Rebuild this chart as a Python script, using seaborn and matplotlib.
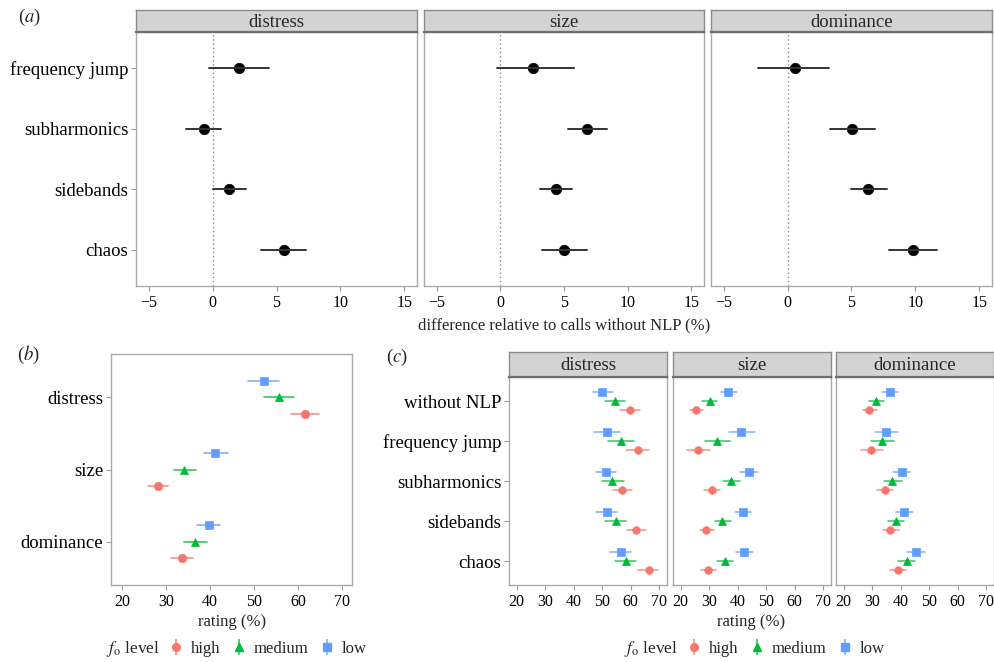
import numpy as np
import pandas as pd
import matplotlib
matplotlib.use("Agg")
import matplotlib.pyplot as plt
import seaborn as sns
from matplotlib.lines import Line2D

# ------------------------------------------------------------------ data
nlp_types = ["frequency jump", "subharmonics", "sidebands", "chaos"]
scales = ["distress", "size", "dominance"]

# panel (a): difference relative to calls without NLP (%), estimate + interval
diff_distress = [2.1, -0.7, 1.3, 5.6]
diff_distress_lo = [-0.25, -2.1, 0.0, 3.8]
diff_distress_hi = [4.45, 0.65, 2.6, 7.3]
diff_size = [2.55, 6.8, 4.35, 5.0]
diff_size_lo = [-0.25, 5.3, 3.15, 3.3]
diff_size_hi = [5.75, 8.35, 5.65, 6.8]
diff_dominance = [0.55, 5.05, 6.3, 9.8]
diff_dominance_lo = [-2.3, 3.35, 4.95, 7.95]
diff_dominance_hi = [3.2, 6.85, 7.75, 11.7]

# panel (b): rating (%) per scale, by f0 level
b_high = [61.5, 28.2, 33.7]
b_high_lo = [58.3, 26.0, 31.2]
b_high_hi = [64.7, 30.5, 36.2]
b_medium = [55.7, 34.1, 36.6]
b_medium_lo = [52.2, 31.8, 34.0]
b_medium_hi = [59.1, 36.8, 39.2]
b_low = [52.2, 41.2, 39.7]
b_low_lo = [48.7, 38.7, 37.1]
b_low_hi = [55.7, 44.0, 42.2]

# panel (c): rating (%) per call type, scale and f0 level
call_types = ["without NLP", "frequency jump", "subharmonics", "sidebands", "chaos"]
c_distress_low = [50.0, 51.6, 51.3, 51.5, 56.5]
c_distress_low_lo = [46.6, 47.1, 47.8, 47.9, 52.8]
c_distress_low_hi = [53.6, 56.3, 54.9, 55.0, 60.2]
c_distress_medium = [54.5, 56.5, 53.5, 54.7, 58.3]
c_distress_medium_lo = [51.0, 52.0, 49.9, 51.0, 54.5]
c_distress_medium_hi = [58.1, 61.0, 57.5, 58.3, 61.9]
c_distress_high = [59.7, 62.4, 57.0, 62.0, 66.3]
c_distress_high_lo = [56.3, 58.2, 53.6, 58.5, 62.7]
c_distress_high_hi = [63.1, 66.5, 60.4, 65.5, 69.5]
c_size_low = [36.6, 41.1, 43.8, 41.7, 42.2]
c_size_low_lo = [34.1, 37.0, 40.8, 38.9, 39.3]
c_size_low_hi = [39.6, 46.0, 47.0, 44.8, 45.5]
c_size_medium = [30.3, 32.6, 37.8, 34.6, 35.5]
c_size_medium_lo = [27.6, 28.5, 35.0, 31.9, 32.6]
c_size_medium_hi = [32.9, 37.2, 40.8, 37.6, 38.4]
c_size_high = [25.3, 26.1, 30.8, 29.0, 29.6]
c_size_high_lo = [23.2, 22.3, 28.1, 26.7, 27.1]
c_size_high_hi = [27.7, 30.2, 33.8, 31.6, 32.3]
c_dominance_low = [36.2, 35.0, 40.3, 41.3, 45.3]
c_dominance_low_lo = [33.5, 31.0, 37.4, 38.5, 42.2]
c_dominance_low_hi = [39.0, 39.2, 43.3, 44.2, 48.6]
c_dominance_medium = [31.2, 33.5, 37.1, 38.3, 42.1]
c_dominance_medium_lo = [28.8, 29.6, 34.3, 35.5, 39.2]
c_dominance_medium_hi = [34.1, 37.8, 40.3, 41.2, 45.1]
c_dominance_high = [29.0, 29.7, 34.4, 36.4, 39.0]
c_dominance_high_lo = [26.7, 25.9, 31.7, 33.7, 36.2]
c_dominance_high_hi = [31.6, 33.7, 37.4, 39.3, 41.8]

levels = ["high", "medium", "low"]
level_colors = {"high": "#F8766D", "medium": "#00BA38", "low": "#619CFF"}
level_markers = {"high": "o", "medium": "^", "low": "s"}

# ------------------------------------------------------------------ helpers
def long_df(cats, est, lo, hi, level=None):
    rows = []
    for c, e, l, h in zip(cats, est, lo, hi):
        for v in (l, e, h):
            rows.append({"cat": c, "value": v, "level": level})
    return pd.DataFrame(rows)


def interval(v):
    return (v.min(), v.max())


sns.set_theme(style="white")
plt.rcParams["font.family"] = ["Liberation Serif", "DejaVu Serif"]
plt.rcParams["mathtext.fontset"] = "stix"

W, H = 995, 662
fig = plt.figure(figsize=(W / 100, H / 100), dpi=100)

BORDER = "#a9a9a9"
TICKC = "#9a9a9a"


def px_axes(x0, y0, x1, y1):
    return fig.add_axes([x0 / W, 1 - y1 / H, (x1 - x0) / W, (y1 - y0) / H])


def style_axes(ax, show_y, ylab_size=13.5, xlab_size=11.5):
    for s in ax.spines.values():
        s.set_visible(True)
        s.set_color(BORDER)
        s.set_linewidth(1.0)
    ax.tick_params(axis="both", length=3.5, width=0.8, color=TICKC,
                   labelcolor="black", pad=2)
    ax.tick_params(axis="x", labelsize=xlab_size, pad=3)
    ax.tick_params(axis="y", labelsize=ylab_size)
    ax.set_xlabel("")
    ax.set_ylabel("")
    ax.grid(False)
    if not show_y:
        ax.tick_params(axis="y", left=False, labelleft=False)
    else:
        ax.tick_params(axis="y", left=True)
    ax.tick_params(axis="x", bottom=True)


def strip(x0, y0, x1, y1, label):
    sa = px_axes(x0, y0, x1, y1)
    sa.set_facecolor("#d3d3d3")
    sa.set_xticks([])
    sa.set_yticks([])
    for s in sa.spines.values():
        s.set_color("#8c8c8c")
        s.set_linewidth(1.0)
    sa.spines["bottom"].set_linewidth(1.6)
    sa.spines["bottom"].set_color("#6e6e6e")
    sa.text(0.5, 0.45, label, ha="center", va="center", fontsize=13.5,
            transform=sa.transAxes)


# ------------------------------------------------------------------ panel (a)
a_data = {
    "distress": (diff_distress, diff_distress_lo, diff_distress_hi),
    "size": (diff_size, diff_size_lo, diff_size_hi),
    "dominance": (diff_dominance, diff_dominance_lo, diff_dominance_hi),
}
a_x = [(136, 417), (424, 704), (711, 992)]
for i, sc in enumerate(scales):
    x0, x1 = a_x[i]
    ax = px_axes(x0, 32, x1, 286)
    est, lo, hi = a_data[sc]
    df = long_df(nlp_types, est, lo, hi)
    ax.axvline(0, color="#8a8a8a", linestyle=(0, (1, 2)), linewidth=1.0, zorder=0)
    sns.pointplot(data=df, x="value", y="cat", order=nlp_types, orient="h",
                  estimator=np.median, errorbar=interval, color="black",
                  markers="o", linestyle="none", markersize=7.5, markeredgewidth=0.5,
                  err_kws={"color": "#333333", "linewidth": 1.4},
                  legend=False, ax=ax)
    ax.set_xlim(-6, 16)
    ax.set_xticks([-5, 0, 5, 10, 15])
    ax.set_ylim(len(nlp_types) - 1 + 0.6, -0.6)
    style_axes(ax, show_y=(i == 0))
    strip(x0, 10, x1, 32, sc)

fig.text(564 / W, 1 - 325 / H, "difference relative to calls without NLP (%)",
         ha="center", va="center", fontsize=12)
fig.text(18 / W, 1 - 17 / H, r"($\it{a}$)", ha="left", va="center", fontsize=13.5)

# ------------------------------------------------------------------ panel (b)
b_est = {"high": b_high, "medium": b_medium, "low": b_low}
b_lo = {"high": b_high_lo, "medium": b_medium_lo, "low": b_low_lo}
b_hi = {"high": b_high_hi, "medium": b_medium_hi, "low": b_low_hi}
hue_order = ["low", "medium", "high"]

dfb = pd.concat([long_df(scales, b_est[l], b_lo[l], b_hi[l], l) for l in levels],
                ignore_index=True)
axb = px_axes(111, 354, 352, 585)
sns.pointplot(data=dfb, x="value", y="cat", hue="level", order=scales,
              hue_order=hue_order, orient="h", estimator=np.median,
              errorbar=interval, dodge=0.46, palette=level_colors,
              markers=[level_markers[l] for l in hue_order], linestyle="none",
              markersize=6, markeredgewidth=0.5,
              err_kws={"linewidth": 1.2, "alpha": 0.8}, legend=False, ax=axb)
axb.set_xlim(17.5, 72.2)
axb.set_xticks([20, 30, 40, 50, 60, 70])
axb.set_ylim(len(scales) - 1 + 0.6, -0.6)
style_axes(axb, show_y=True)
fig.text(232 / W, 1 - 622 / H, "rating (%)", ha="center", va="center", fontsize=12)
fig.text(17 / W, 1 - 355 / H, r"($\it{b}$)", ha="left", va="center", fontsize=13.5)

# ------------------------------------------------------------------ panel (c)
c_est = {
    ("distress", "low"): c_distress_low, ("distress", "medium"): c_distress_medium,
    ("distress", "high"): c_distress_high,
    ("size", "low"): c_size_low, ("size", "medium"): c_size_medium,
    ("size", "high"): c_size_high,
    ("dominance", "low"): c_dominance_low, ("dominance", "medium"): c_dominance_medium,
    ("dominance", "high"): c_dominance_high,
}
c_lo = {
    ("distress", "low"): c_distress_low_lo, ("distress", "medium"): c_distress_medium_lo,
    ("distress", "high"): c_distress_high_lo,
    ("size", "low"): c_size_low_lo, ("size", "medium"): c_size_medium_lo,
    ("size", "high"): c_size_high_lo,
    ("dominance", "low"): c_dominance_low_lo, ("dominance", "medium"): c_dominance_medium_lo,
    ("dominance", "high"): c_dominance_high_lo,
}
c_hi = {
    ("distress", "low"): c_distress_low_hi, ("distress", "medium"): c_distress_medium_hi,
    ("distress", "high"): c_distress_high_hi,
    ("size", "low"): c_size_low_hi, ("size", "medium"): c_size_medium_hi,
    ("size", "high"): c_size_high_hi,
    ("dominance", "low"): c_dominance_low_hi, ("dominance", "medium"): c_dominance_medium_hi,
    ("dominance", "high"): c_dominance_high_hi,
}
c_x = [(509, 667), (673, 831), (836, 994)]
for i, sc in enumerate(scales):
    x0, x1 = c_x[i]
    ax = px_axes(x0, 377, x1, 585)
    dfc = pd.concat([long_df(call_types, c_est[(sc, l)], c_lo[(sc, l)],
                             c_hi[(sc, l)], l) for l in levels], ignore_index=True)
    sns.pointplot(data=dfc, x="value", y="cat", hue="level", order=call_types,
                  hue_order=hue_order, orient="h", estimator=np.median,
                  errorbar=interval, dodge=0.46, palette=level_colors,
                  markers=[level_markers[l] for l in hue_order], linestyle="none",
                  markersize=5.5, markeredgewidth=0.5,
                  err_kws={"linewidth": 1.1, "alpha": 0.8}, legend=False, ax=ax)
    ax.set_xlim(17.3, 72.7)
    ax.set_xticks([20, 30, 40, 50, 60, 70])
    ax.set_ylim(len(call_types) - 1 + 0.6, -0.6)
    style_axes(ax, show_y=(i == 0))
    strip(x0, 352, x1, 377, sc)

fig.text(751 / W, 1 - 622 / H, "rating (%)", ha="center", va="center", fontsize=12)
fig.text(386 / W, 1 - 357 / H, r"($\it{c}$)", ha="left", va="center", fontsize=13.5)

# ------------------------------------------------------------------ legends
def legend_handles():
    hs = []
    for l in levels:
        c = level_colors[l]
        hs.append((Line2D([], [], color=c, marker="|", markersize=11,
                          markeredgewidth=1.2, linestyle="none", alpha=0.8),
                   Line2D([], [], color=c, marker=level_markers[l], markersize=5.5,
                          linestyle="none")))
    return hs


for title_x, leg_x in [(106, 170), (624, 688)]:
    fig.text(title_x / W, 1 - 649 / H, r"$\mathit{f}_{\mathrm{o}}$ level",
             ha="left", va="center", fontsize=12.5)
    fig.legend(legend_handles(), levels, loc="center left",
               bbox_to_anchor=(leg_x / W, 1 - 649 / H), ncol=3, frameon=False,
               fontsize=12, handlelength=0.7, handletextpad=0.55,
               columnspacing=0.75, borderpad=0, borderaxespad=0)

fig.savefig("out.png", dpi=100)
